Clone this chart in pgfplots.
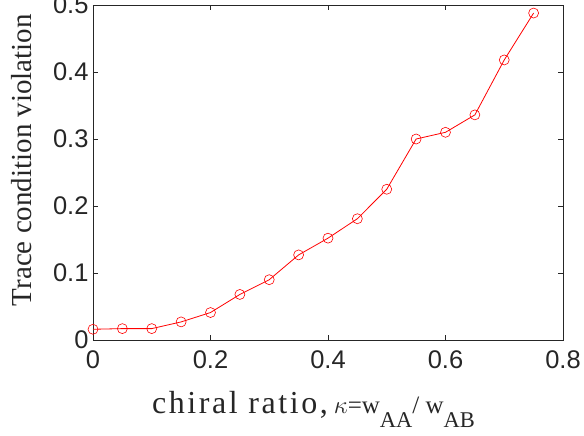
\documentclass[border=0pt]{standalone}
\usepackage{fontspec}
\setmainfont{Liberation Serif}
\newfontfamily\arialfont{Liberation Sans}
\newfontfamily\spacedserif[LetterSpace=8]{Liberation Serif}
\usepackage{pgfplots}
\pgfplotsset{compat=1.18}

\definecolor{axgray}{RGB}{38,38,38}

\begin{document}
\begin{tikzpicture}
\begin{axis}[
    scale only axis,
    width=470bp, height=335bp,
    xmin=0, xmax=0.8,
    ymin=0, ymax=0.5,
    xtick={0,0.2,0.4,0.6,0.8},
    ytick={0,0.1,0.2,0.3,0.4,0.5},
    tick align=inside,
    major tick length=5bp,
    axis line style={axgray, line width=0.8bp},
    every tick/.style={axgray, line width=0.8bp},
    /pgf/number format/assume math mode=true,
    ticklabel style={font=\arialfont\fontsize{25.5bp}{30bp}\selectfont, text=axgray},
    xticklabel style={yshift=-7bp},
    yticklabel style={xshift=-1bp},
    clip=false,
    xlabel={{\spacedserif\fontsize{32bp}{36bp}\selectfont chiral ratio,}\hspace{6bp}{\fontsize{28bp}{30bp}\selectfont$\kappa$}{\fontsize{25bp}{28bp}\selectfont =w\raisebox{-14bp}{\fontsize{22.5bp}{26bp}\selectfont AA}/ w\raisebox{-14bp}{\fontsize{22.5bp}{26bp}\selectfont AB}}},
    xlabel style={at={(rel axis cs:0.1255,0)}, anchor=base west, yshift=-73bp, inner sep=0pt, text=axgray},
    ylabel={Trace condition violation},
    ylabel style={font=\fontsize{29bp}{34bp}\selectfont, at={(rel axis cs:0,0.537)}, anchor=base, yshift=61bp, inner sep=0pt, text=axgray},
]
\addplot[red, line width=0.8bp, mark=o, mark size=5bp, mark options={line width=0.6bp}] coordinates {
    (0.00,0.016)
    (0.05,0.017)
    (0.10,0.017)
    (0.15,0.027)
    (0.20,0.041)
    (0.25,0.068)
    (0.30,0.090)
    (0.35,0.127)
    (0.40,0.152)
    (0.45,0.181)
    (0.50,0.225)
    (0.55,0.300)
    (0.60,0.310)
    (0.65,0.336)
    (0.70,0.418)
    (0.75,0.488)
};
\end{axis}
\pgfresetboundingbox
\path (-93bp,-96bp) rectangle (491bp,340bp);
\end{tikzpicture}
\end{document}
